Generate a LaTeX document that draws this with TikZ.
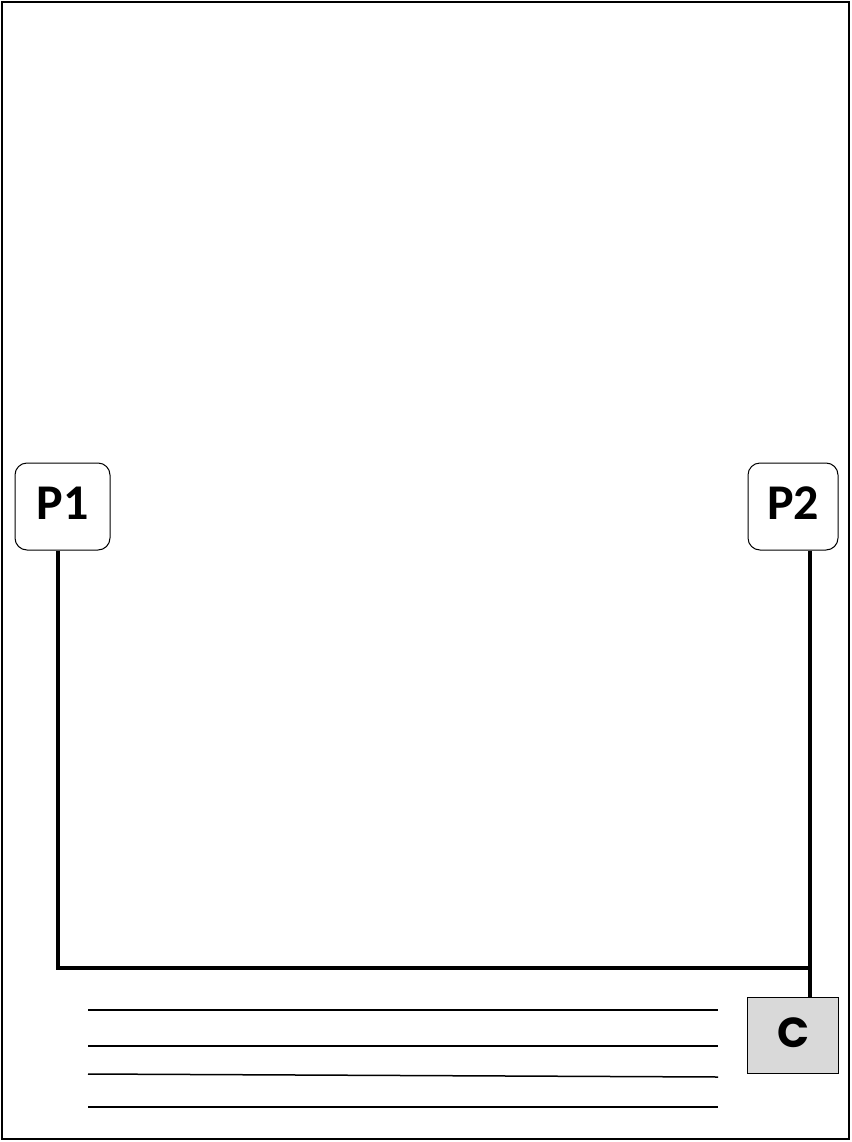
\documentclass[tikz,border=0pt]{standalone}
\usepackage{fontspec}
\newfontfamily\pfont{Carlito}
\newfontfamily\cfont{Poppins}
\usetikzlibrary{positioning}

\begin{document}
\begin{tikzpicture}[x=1pt, y=-1pt,
		pbox/.style={draw, rounded corners=12pt, line width=1pt, inner sep=0pt,
		             font=\pfont\bfseries\fontsize{50}{50}\selectfont},
		wire/.style={line width=3.2pt},
		rule/.style={line width=1.5pt}]
		%Frame
		\draw[line width=1.5pt] (2,2) rectangle (849,1139);
		\useasboundingbox (0,0) rectangle (851,1142);
		
		%Posts
		\node[pbox,
		      minimum width = 95pt,
		      minimum height = 87pt] (P1) at (62.5,506.5){\raisebox{7pt}{P1}};
		\node[pbox,
		      minimum width = 90pt,
		      minimum height = 87pt] (P2) at (793,506.5){\raisebox{7pt}{P2}};
		
		%C Block
		\node[draw,
		      fill=gray!30,
		      line width=1pt,
		      minimum width = 91pt,
		      minimum height = 76pt,
		      font=\cfont\bfseries\fontsize{42}{42}\selectfont] (C) at (793,1035.5){\raisebox{6pt}{C}};
		
		\coordinate (j1) at (58,968);
		\coordinate (j2) at (810,968);
		\draw[wire] (j1 |- P1.south) -- (j1) -- (j2);
		\draw[wire] (j2 |- P2.south) -- (j2 |- C.north);
		
		%Lines
		\coordinate (l1) at (88,1010);
		\coordinate (r1) at (718,1010);
		\coordinate (l2) at (88,1046);
		\coordinate (r2) at (718,1046);
		\coordinate (l3) at (88,1074);
		\coordinate (r3) at (718,1077);
		\coordinate (l4) at (88,1107);
		\coordinate (r4) at (718,1107);
		\foreach \i in {1,...,4}
		  \draw[rule] (l\i) -- (r\i);
	\end{tikzpicture}
\end{document}
